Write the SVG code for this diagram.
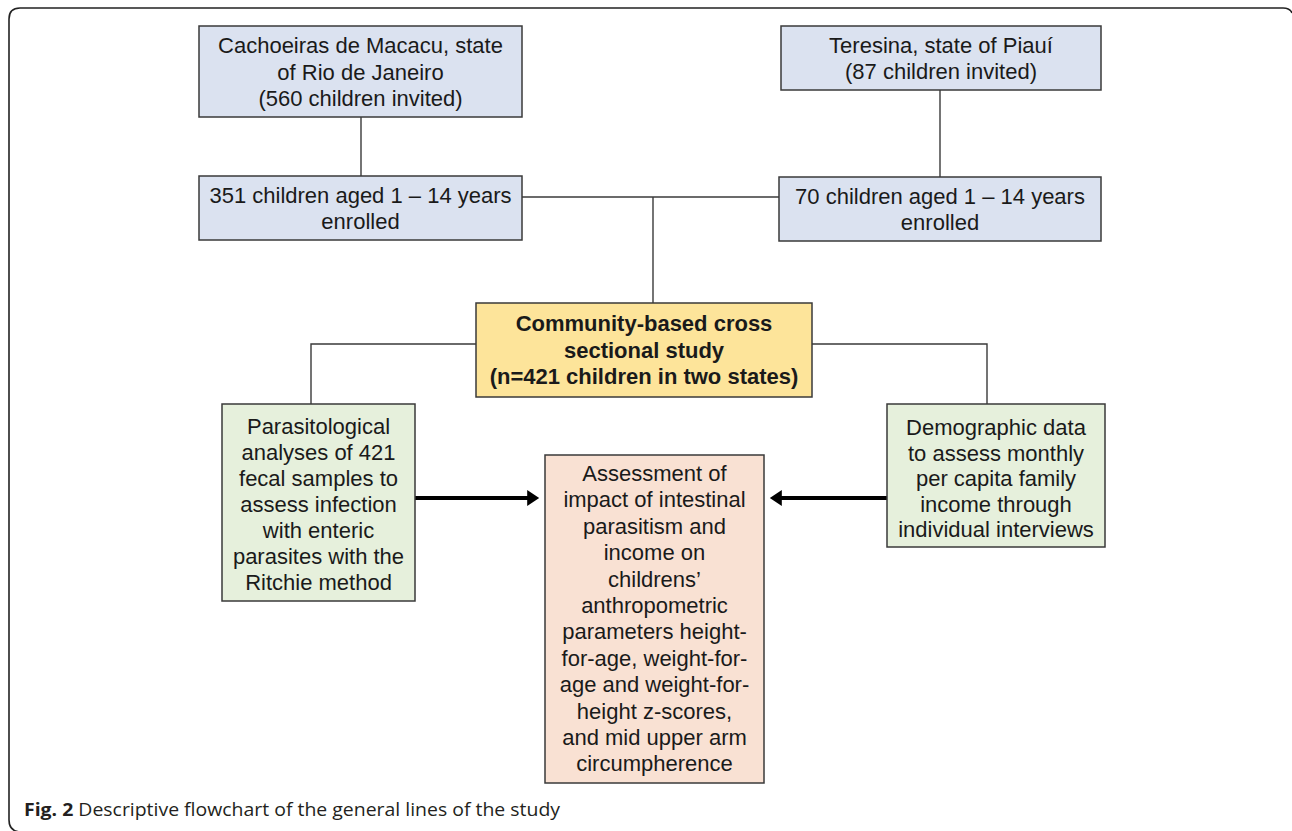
<svg xmlns="http://www.w3.org/2000/svg" width="1292" height="831" viewBox="0 0 1292 831">
<style>
.box{stroke:#3a3a3a;stroke-width:1.5}
.blue{fill:#dbe2f0}
.green{fill:#e6f0dc}
.yellow{fill:#fde49a}
.orange{fill:#f9e1d3}
.t{font-family:"Liberation Sans",Arial,sans-serif;font-size:22px;fill:#1a1a1a;text-anchor:middle}
.b{font-weight:bold}
.line{stroke:#3a3a3a;stroke-width:1.4;fill:none}
.arrow{stroke:#000;stroke-width:4;fill:none}
.cap{font-family:"Open Sans","Liberation Sans",sans-serif;font-size:17.5px;fill:#231f20}
</style>
<defs>
<marker id="ah" markerWidth="4" markerHeight="4" refX="2.2" refY="2" orient="auto" markerUnits="strokeWidth">
<path d="M0,0 L3,2 L0,4 z" fill="#000"/>
</marker>
</defs>
<rect width="1292" height="831" fill="#fff"/>
<path d="M20,832 Q9,831 9,820 L9,19 Q9,8 20,8 L1283,8 Q1290,8 1292,13" fill="none" stroke="#222" stroke-width="1.6"/>

<g id="connectors">
<line class="line" x1="361" y1="117" x2="361" y2="176"/>
<line class="line" x1="940" y1="90" x2="940" y2="177"/>
<line class="line" x1="522" y1="197" x2="779" y2="197"/>
<line class="line" x1="653" y1="197" x2="653" y2="303"/>
<polyline class="line" points="476,344 311,344 311,404"/>
<polyline class="line" points="812,344 987,344 987,404"/>
<line class="arrow" x1="415" y1="498" x2="536" y2="498" marker-end="url(#ah)"/>
<line class="arrow" x1="887" y1="498" x2="773" y2="498" marker-end="url(#ah)"/>
</g>

<g id="cachoeiras">
<rect class="box blue" x="199" y="26" width="323" height="91"/>
<text class="t" x="360.5" y="53">Cachoeiras de Macacu, state</text>
<text class="t" x="360.5" y="79.5">of Rio de Janeiro</text>
<text class="t" x="360.5" y="106">(560 children invited)</text>
</g>

<g id="enrolled351">
<rect class="box blue" x="199" y="176" width="323" height="64"/>
<text class="t" x="360.5" y="203">351 children aged 1 – 14 years</text>
<text class="t" x="360.5" y="229">enrolled</text>
</g>

<g id="teresina">
<rect class="box blue" x="781" y="26" width="320" height="64"/>
<text class="t" x="941" y="53">Teresina, state of Piauí</text>
<text class="t" x="941" y="79">(87 children invited)</text>
</g>

<g id="enrolled70">
<rect class="box blue" x="779" y="177" width="322" height="64"/>
<text class="t" x="940" y="204">70 children aged 1 – 14 years</text>
<text class="t" x="940" y="230">enrolled</text>
</g>

<g id="study">
<rect class="box yellow" x="476" y="303" width="336" height="94"/>
<text class="t b" x="644" y="331">Community-based cross</text>
<text class="t b" x="644" y="358">sectional study</text>
<text class="t b" x="644" y="384">(n=421 children in two states)</text>
</g>

<g id="parasitological">
<rect class="box green" x="222" y="404" width="193" height="197"/>
<text class="t" x="318.5" y="434">Parasitological</text>
<text class="t" x="318.5" y="460">analyses of 421</text>
<text class="t" x="318.5" y="486">fecal samples to</text>
<text class="t" x="318.5" y="512">assess infection</text>
<text class="t" x="318.5" y="538">with enteric</text>
<text class="t" x="318.5" y="564">parasites with the</text>
<text class="t" x="318.5" y="590">Ritchie method</text>
</g>

<g id="demographic">
<rect class="box green" x="887" y="404" width="218" height="143"/>
<text class="t" x="996" y="435">Demographic data</text>
<text class="t" x="996" y="460.5">to assess monthly</text>
<text class="t" x="996" y="486">per capita family</text>
<text class="t" x="996" y="511.5">income through</text>
<text class="t" x="996" y="537">individual interviews</text>
</g>

<g id="assessment">
<rect class="box orange" x="545" y="455" width="219" height="328"/>
<text class="t" x="654.5" y="481">Assessment of</text>
<text class="t" x="654.5" y="507.4">impact of intestinal</text>
<text class="t" x="654.5" y="533.8">parasitism and</text>
<text class="t" x="654.5" y="560.2">income on</text>
<text class="t" x="654.5" y="586.6">childrens’</text>
<text class="t" x="654.5" y="613">anthropometric</text>
<text class="t" x="654.5" y="639.4">parameters height-</text>
<text class="t" x="654.5" y="665.8">for-age, weight-for-</text>
<text class="t" x="654.5" y="692.2">age and weight-for-</text>
<text class="t" x="654.5" y="718.6">height z-scores,</text>
<text class="t" x="654.5" y="745">and mid upper arm</text>
<text class="t" x="654.5" y="771.4">circumpherence</text>
</g>

<text class="cap" x="24" y="816" textLength="536" lengthAdjust="spacingAndGlyphs"><tspan font-weight="bold">Fig. 2</tspan> Descriptive flowchart of the general lines of the study</text>
</svg>
